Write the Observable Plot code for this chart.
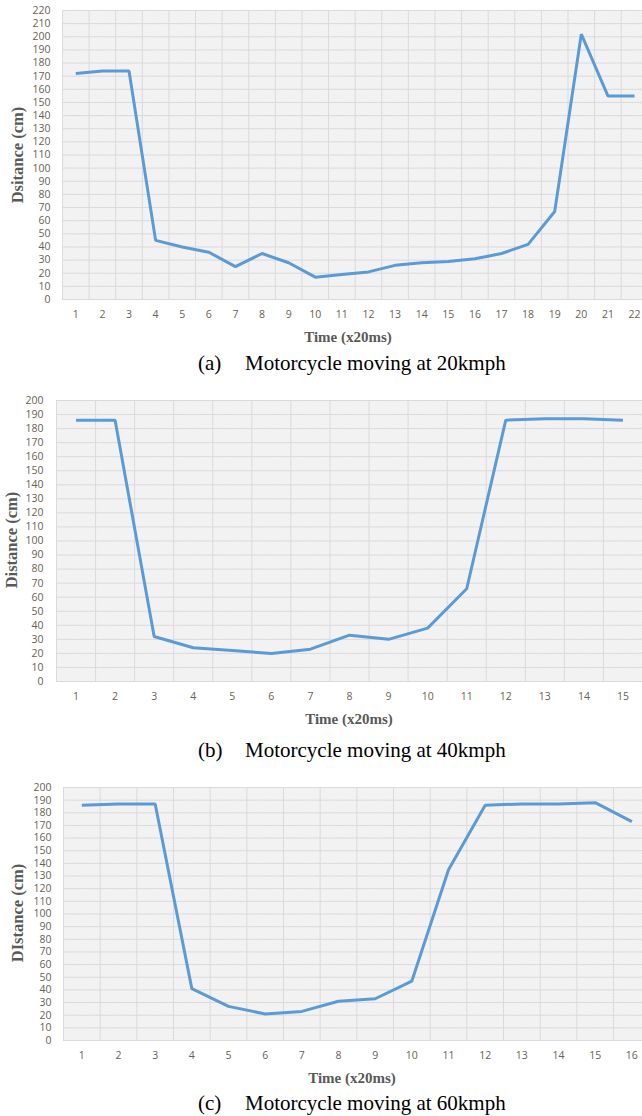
<!DOCTYPE html>
<html><head><meta charset="utf-8">
<script src="https://cdn.jsdelivr.net/npm/d3@7"></script>
<script src="https://cdn.jsdelivr.net/npm/@observablehq/plot@0.6"></script>
<style>
body{margin:0;background:#fff;}
#wrap{position:relative;width:642px;height:1116px;overflow:hidden;}
.chart{position:absolute;left:0;}
.ytitle{position:absolute;font:bold 16.5px "Liberation Serif",serif;color:#595959;transform:translate(-50%,-50%) rotate(-90deg);white-space:nowrap;}
.xtitle{position:absolute;font:bold 15px "Liberation Serif",serif;color:#595959;transform:translate(-50%,-50%);white-space:nowrap;}
.cap{position:absolute;font:21px "Liberation Serif",serif;color:#000;transform:translateY(-50%);white-space:nowrap;}
.cap span.lab{display:inline-block;width:47px;}
</style>
</head><body>
<div id="wrap"></div>
<script>
// ---- data ----
const timeA = [1,2,3,4,5,6,7,8,9,10,11,12,13,14,15,16,17,18,19,20,21,22];
const distA = [172,174,174,45,40,36,25,35,28,17,19,21,26,28,29,31,35,42,67,202,155,155];
const ticksA = [0,10,20,30,40,50,60,70,80,90,100,110,120,130,140,150,160,170,180,190,200,210,220];

const timeB = [1,2,3,4,5,6,7,8,9,10,11,12,13,14,15];
const distB = [186,186,32,24,22,20,23,33,30,38,66,186,187,187,186];
const ticksB = [0,10,20,30,40,50,60,70,80,90,100,110,120,130,140,150,160,170,180,190,200];

const timeC = [1,2,3,4,5,6,7,8,9,10,11,12,13,14,15,16];
const distC = [186,187,187,41,27,21,23,31,33,47,135,186,187,187,188,173];
const ticksC = ticksB;

const yTitles = ["Dsitance (cm)", "Distance (cm)", "DIstance (cm)"];
const xTitle = "Time (x20ms)";
const capLabels = ["(a)", "(b)", "(c)"];
const capTexts = ["Motorcycle moving at 20kmph", "Motorcycle moving at 40kmph", "Motorcycle moving at 60kmph"];

const wrap = document.getElementById("wrap");

function makeChart(o) {
  const data = o.time.map((t, i) => ({t, d: o.dist[i]}));
  const bounds = [o.time[0] - 0.5, ...o.time.map(t => t + 0.5)];
  const id = "hatch-" + o.key;
  const svg = Plot.plot({
    width: 642,
    height: o.height,
    marginTop: o.mt,
    marginBottom: o.mb,
    marginLeft: o.ml,
    marginRight: 0,
    style: {fontFamily: "'Open Sans', sans-serif", fontSize: "10.5px", color: "#6a5f55", background: "transparent", overflow: "visible"},
    x: {type: "linear", domain: o.xdom},
    y: {domain: [o.yticks[0], o.yticks[o.yticks.length - 1]]},
    marks: [
      Plot.frame({fill: `url(#${id})`, stroke: null}),
      Plot.gridY(o.yticks, {stroke: "#dadada", strokeOpacity: 1, strokeWidth: 1}),
      Plot.gridX(bounds.filter(b => b <= o.xdom[1]), {stroke: "#dadada", strokeOpacity: 1, strokeWidth: 1}),
      Plot.axisY({ticks: o.yticks, tickSize: 0, tickPadding: o.ytp, label: null, tickFormat: d => d}),
      Plot.axisX({ticks: o.time, tickSize: 0, tickPadding: 11, label: null, tickFormat: d => d}),
      Plot.line(data, {x: "t", y: "d", stroke: "#5b9bd5", strokeWidth: 3, strokeLinejoin: "miter", strokeLinecap: "butt"})
    ]
  });
  const defs = d3.select(svg).insert("defs", ":first-child");
  const p = defs.append("pattern").attr("id", id).attr("patternUnits", "userSpaceOnUse")
    .attr("width", 3).attr("height", 3);
  p.append("rect").attr("width", 3).attr("height", 3).attr("fill", "#fbfbfb");
  p.append("path").attr("d", "M0,3L3,0M-1,1L1,-1M2,4L4,2").attr("stroke", "#dcdcdc").attr("stroke-width", 0.9);
  svg.classList.add("chart");
  svg.style.top = o.top + "px";
  wrap.appendChild(svg);

  const yt = document.createElement("div");
  yt.className = "ytitle"; yt.textContent = o.ytitle;
  yt.style.left = o.ytx + "px"; yt.style.top = o.yty + "px";
  wrap.appendChild(yt);

  const xt = document.createElement("div");
  xt.className = "xtitle"; xt.textContent = xTitle;
  xt.style.left = o.xtx + "px"; xt.style.top = o.xty + "px";
  wrap.appendChild(xt);

  const cap = document.createElement("div");
  cap.className = "cap";
  const l = document.createElement("span"); l.className = "lab"; l.textContent = o.caplab;
  const s = document.createElement("span"); s.textContent = o.captext;
  cap.appendChild(l); cap.appendChild(s);
  cap.style.left = "198px"; cap.style.top = o.capy + "px";
  wrap.appendChild(cap);
}

makeChart({key: "a", time: timeA, dist: distA, yticks: ticksA, xdom: [0.5, 22.3],
  top: 0, height: 330, mt: 10, mb: 31, ml: 62, ytp: 12,
  ytitle: yTitles[0], ytx: 18, yty: 155, xtx: 348, xty: 337,
  caplab: capLabels[0], captext: capTexts[0], capy: 363});

makeChart({key: "b", time: timeB, dist: distB, yticks: ticksB, xdom: [0.5, 15.5],
  top: 390, height: 320, mt: 10, mb: 29, ml: 56, ytp: 13,
  ytitle: yTitles[1], ytx: 12, yty: 540, xtx: 349, xty: 719,
  caplab: capLabels[1], captext: capTexts[1], capy: 750});

makeChart({key: "c", time: timeC, dist: distC, yticks: ticksC, xdom: [0.5, 16.29],
  top: 777, height: 290, mt: 10, mb: 27, ml: 63, ytp: 12,
  ytitle: yTitles[2], ytx: 18, yty: 913, xtx: 352, xty: 1078,
  caplab: capLabels[2], captext: capTexts[2], capy: 1103});
</script>
</body></html>
